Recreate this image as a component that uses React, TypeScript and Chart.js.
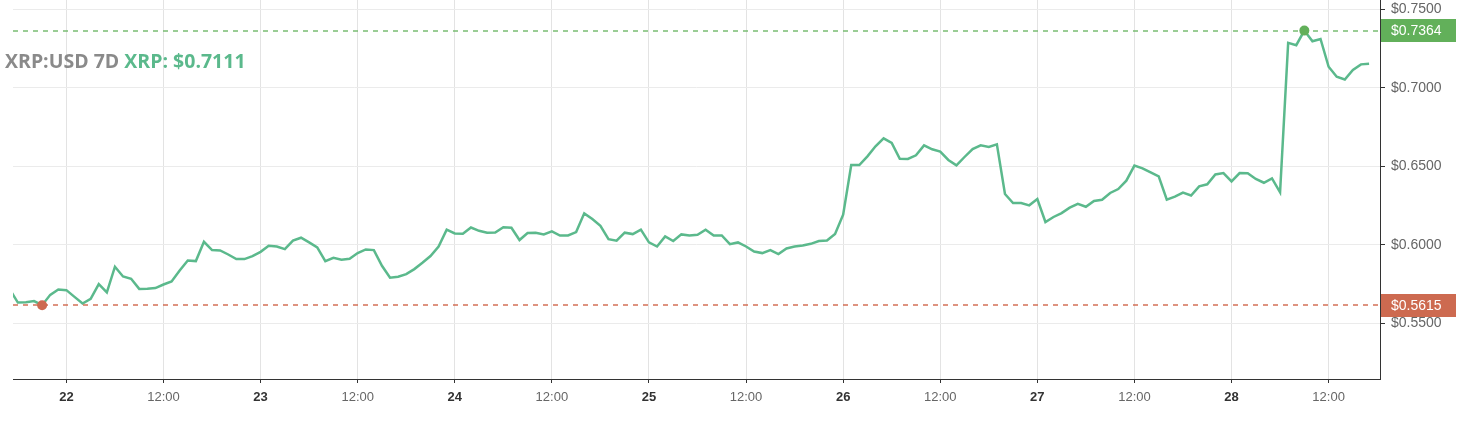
import React, { useEffect, useRef } from 'react';
import { Chart, registerables } from 'chart.js';

Chart.register(...registerables);

// hours relative to day "22" 00:00 of the first price sample (hourly samples)
const START_HOUR = -7;
const X_MIN = -6.6;
const X_MAX = 162.35;

const prices: number[] = [
  0.5716, 0.5632, 0.5634, 0.5641, 0.5615, 0.5681, 0.5715,
  0.5711, 0.5668, 0.5626, 0.5656, 0.5749, 0.5696, 0.5860, 0.5798, 0.5783, 0.5719, 0.5720, 0.5724,
  0.5747, 0.5766, 0.5836, 0.5900, 0.5896, 0.6019, 0.5966, 0.5964, 0.5938, 0.5909, 0.5909, 0.5928,
  0.5955, 0.5994, 0.5989, 0.5972, 0.6027, 0.6045, 0.6015, 0.5983, 0.5896, 0.5917, 0.5904, 0.5911,
  0.5947, 0.5970, 0.5966, 0.5866, 0.5790, 0.5796, 0.5813, 0.5845, 0.5885, 0.5928, 0.5989, 0.6096,
  0.6072, 0.6070, 0.6110, 0.6089, 0.6077, 0.6078, 0.6112, 0.6108, 0.6030, 0.6075, 0.6077, 0.6066,
  0.6085, 0.6059, 0.6059, 0.6081, 0.6200, 0.6164, 0.6121, 0.6036, 0.6026, 0.6077, 0.6068, 0.6096,
  0.6015, 0.5989, 0.6053, 0.6024, 0.6066, 0.6059, 0.6064, 0.6096, 0.6059, 0.6059, 0.6004, 0.6015,
  0.5989, 0.5957, 0.5947, 0.5966, 0.5941, 0.5976, 0.5989, 0.5996, 0.6006, 0.6024, 0.6027, 0.6068,
  0.6191, 0.6508, 0.6508, 0.6563, 0.6627, 0.6678, 0.6649, 0.6548, 0.6547, 0.6570, 0.6633, 0.6608,
  0.6593, 0.6540, 0.6506, 0.6559, 0.6610, 0.6633, 0.6623, 0.6640, 0.6323, 0.6266, 0.6266, 0.6251,
  0.6291, 0.6145, 0.6177, 0.6202, 0.6236, 0.6261, 0.6242, 0.6279, 0.6287, 0.6330, 0.6355, 0.6408,
  0.6504, 0.6487, 0.6461, 0.6436, 0.6287, 0.6306, 0.6332, 0.6314, 0.6372, 0.6385, 0.6448, 0.6457,
  0.6404, 0.6457, 0.6455, 0.6419, 0.6395, 0.6423, 0.6334, 0.7286, 0.7271, 0.7364, 0.7296, 0.7311,
  0.7134, 0.7070, 0.7053, 0.7113, 0.7149, 0.7153,
];

const X_TICKS = [0, 12, 24, 36, 48, 60, 72, 84, 96, 108, 120, 132, 144, 156];
const DAY_LABELS = ['22', '23', '24', '25', '26', '27', '28'];
const HALF_DAY_LABEL = '12:00';
const Y_TICKS = [0.55, 0.6, 0.65, 0.7, 0.75];
const Y_MIN = 0.5145;
const Y_MAX = 0.7559;

const MAX_PRICE = 0.7364;
const MIN_PRICE = 0.5615;
const TITLE = 'XRP:USD 7D';
const SUBTITLE = 'XRP: $0.7111';

const LINE_COLOR = '#5bb98c';
const HIGH_COLOR = '#62b05a';
const LOW_COLOR = '#cd6a50';
const HIGH_DASH = '#6fb868';
const LOW_DASH = '#d0654a';
const FONT = '"Liberation Sans", Arial, sans-serif';

const maxIdx = prices.indexOf(MAX_PRICE);
const minIdx = prices.indexOf(MIN_PRICE);

const refPlugin = {
  id: 'refLines',
  afterDatasetsDraw(chart: any) {
    const { ctx, chartArea, scales } = chart;
    const y = scales.y;
    const lines = [
      { v: MAX_PRICE, c: HIGH_DASH },
      { v: MIN_PRICE, c: LOW_DASH },
    ];
    ctx.save();
    ctx.lineWidth = 1.4;
    ctx.setLineDash([5, 5]);
    for (const l of lines) {
      const py = Math.round(y.getPixelForValue(l.v));
      ctx.strokeStyle = l.c;
      ctx.beginPath();
      ctx.moveTo(chartArea.left, py);
      ctx.lineTo(chartArea.right - 2, py);
      ctx.stroke();
    }
    ctx.setLineDash([]);
    // extreme-point dots drawn above the dashed lines
    const meta = chart.getDatasetMeta(0);
    const pts = [
      { el: meta.data[maxIdx], c: HIGH_COLOR },
      { el: meta.data[minIdx], c: LOW_COLOR },
    ];
    for (const p of pts) {
      if (!p.el) continue;
      ctx.fillStyle = p.c;
      ctx.beginPath();
      ctx.arc(p.el.x, p.el.y, 5, 0, Math.PI * 2);
      ctx.fill();
    }
    ctx.restore();
  },
  afterDraw(chart: any) {
    const { ctx, chartArea, scales } = chart;
    const y = scales.y;
    const labels = [
      { v: MAX_PRICE, c: HIGH_COLOR },
      { v: MIN_PRICE, c: LOW_COLOR },
    ];
    ctx.save();
    for (const l of labels) {
      const py = y.getPixelForValue(l.v);
      const x0 = chartArea.right + 1;
      ctx.fillStyle = l.c;
      ctx.fillRect(x0, Math.round(py - 11.5), 75, 23);
      ctx.fillStyle = '#ffffff';
      ctx.font = '14px ' + FONT;
      ctx.textBaseline = 'middle';
      ctx.textAlign = 'left';
      ctx.fillText('$' + l.v.toFixed(4), chartArea.right + 11, py + 0.5);
    }
    ctx.restore();
  },
};

export default function App() {
  const canvasRef = useRef<HTMLCanvasElement | null>(null);

  useEffect(() => {
    const canvas = canvasRef.current;
    if (!canvas) return;
    const data = prices.map((p, i) => ({ x: START_HOUR + i, y: p }));
    const chart = new Chart(canvas, {
      type: 'line',
      data: {
        datasets: [
          {
            data,
            borderColor: LINE_COLOR,
            borderWidth: 2.5,
            tension: 0,
            fill: false,
            pointRadius: 0,
            pointHoverRadius: 0,
          },
        ],
      },
      options: {
        animation: false,
        responsive: false,
        maintainAspectRatio: false,
        layout: { padding: { left: 13, top: 0, right: 0, bottom: 0 } },
        plugins: {
          legend: { display: false },
          tooltip: { enabled: false },
          title: { display: false },
        },
        events: [],
        scales: {
          x: {
            type: 'linear',
            min: X_MIN,
            max: X_MAX,
            afterBuildTicks: (s: any) => {
              s.ticks = X_TICKS.map((v) => ({ value: v }));
            },
            afterFit: (s: any) => {
              s.height = 42;
              s.paddingLeft = 0;
              s.paddingRight = 0;
            },
            grid: {
              color: '#e3e3e3',
              tickColor: '#333333',
              tickLength: 4,
              lineWidth: 1,
            },
            border: { display: true, color: '#333333', width: 1 },
            ticks: {
              autoSkip: false,
              maxRotation: 0,
              padding: 7,
              callback: (v: any) => {
                const n = Number(v);
                return n % 24 === 0 ? DAY_LABELS[n / 24] : HALF_DAY_LABEL;
              },
              color: (c: any) => (c.tick && c.tick.value % 24 === 0 ? '#333333' : '#666666'),
              font: (c: any) => ({
                family: FONT,
                size: 13,
                weight: c.tick && c.tick.value % 24 === 0 ? 'bold' : 'normal',
              }),
            },
          },
          y: {
            type: 'linear',
            position: 'right',
            min: Y_MIN,
            max: Y_MAX,
            afterBuildTicks: (s: any) => {
              s.ticks = Y_TICKS.map((v) => ({ value: v }));
            },
            afterFit: (s: any) => {
              s.width = 89;
              s.paddingTop = 0;
              s.paddingBottom = 0;
            },
            grid: {
              color: '#ebebeb',
              tickColor: '#333333',
              tickLength: 5,
              lineWidth: 1,
            },
            border: { display: true, color: '#333333', width: 1 },
            ticks: {
              padding: 6,
              color: '#666666',
              font: { family: FONT, size: 14 },
              callback: (v: any) => '$' + Number(v).toFixed(4),
            },
          },
        },
      },
      plugins: [refPlugin],
    } as any);
    return () => chart.destroy();
  }, []);

  return (
    <div style={{ position: 'fixed', left: 0, top: 0, width: 1469, height: 421, background: '#ffffff' }}>
      <canvas ref={canvasRef} width={1469} height={421} style={{ display: 'block', width: 1469, height: 421 }} />
      <div
        style={{
          position: 'absolute',
          left: 5,
          top: 49,
          fontFamily: '"Open Sans", sans-serif',
          fontWeight: 700,
          fontSize: 19.5,
          lineHeight: '24px',
          whiteSpace: 'nowrap',
          pointerEvents: 'none',
        }}
      >
        <span style={{ color: '#8a8a8a' }}>{TITLE}</span>{' '}
        <span style={{ color: LINE_COLOR }}>{SUBTITLE}</span>
      </div>
    </div>
  );
}
